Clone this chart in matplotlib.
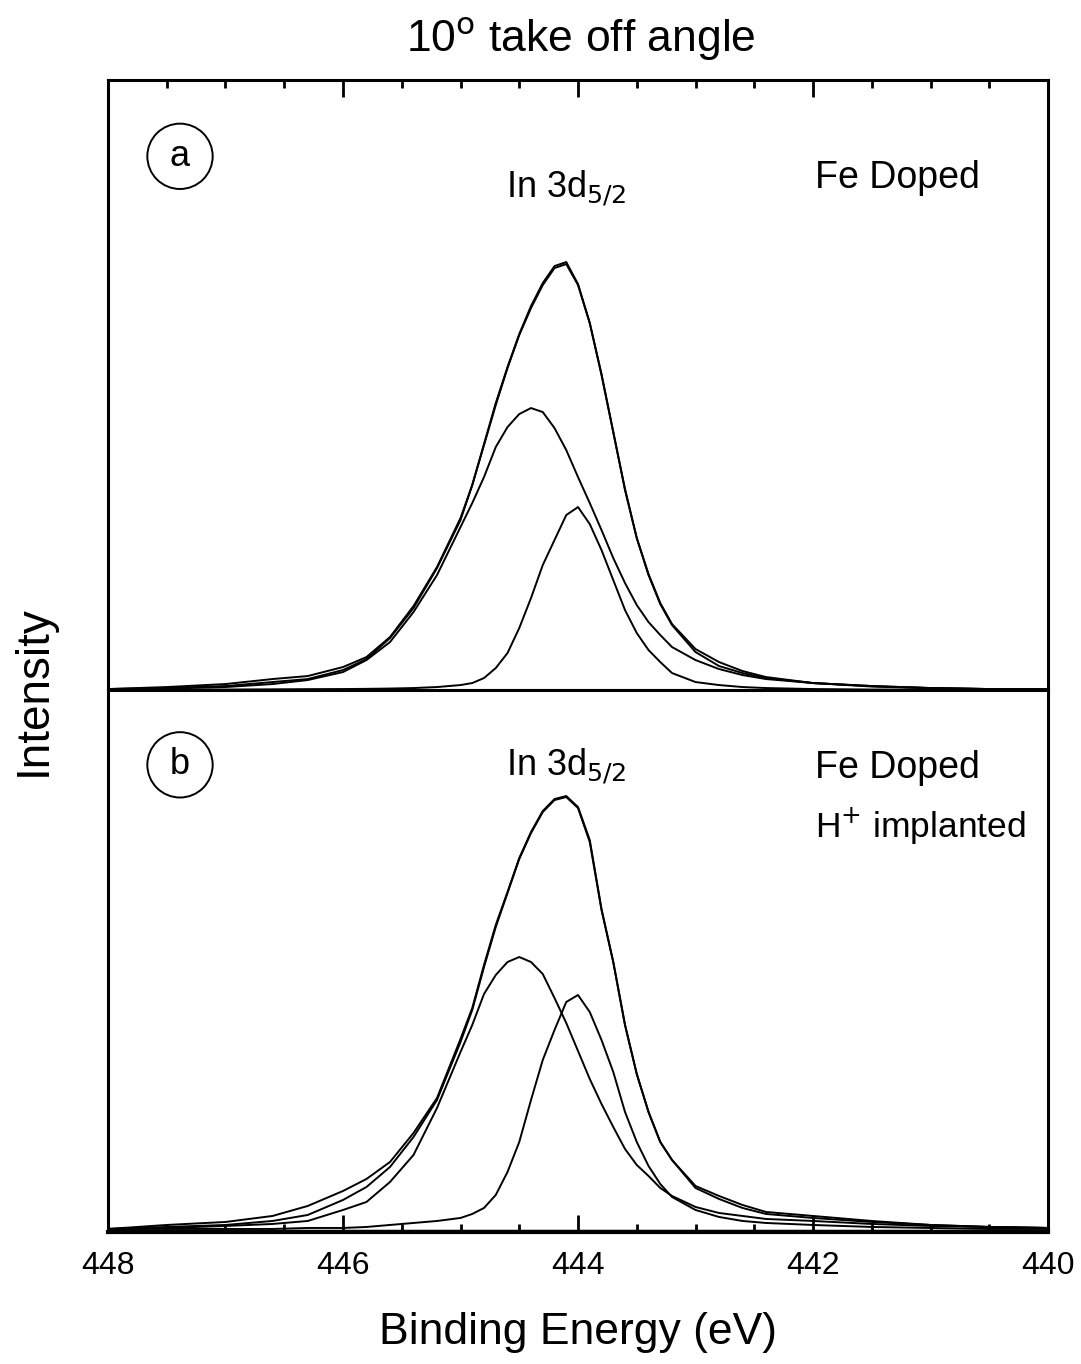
import matplotlib
matplotlib.use("Agg")
import matplotlib.pyplot as plt
from matplotlib.ticker import MultipleLocator

plt.rcParams['font.family'] = ['Liberation Sans', 'DejaVu Sans']

# binding energy grid (eV)
energy = [448.0, 447.5, 447.0, 446.6, 446.3, 446.0, 445.8, 445.6, 445.4, 445.2,
          445.0, 444.9, 444.8, 444.7, 444.6, 444.5, 444.4, 444.3, 444.2, 444.1,
          444.0, 443.9, 443.8, 443.7, 443.6, 443.5, 443.4, 443.3, 443.2, 443.0,
          442.8, 442.6, 442.4, 442.0, 441.5, 441.0, 440.5, 440.0]

# (a) Fe doped
a_data = [1, 3, 6, 11, 14, 23, 33, 53, 84, 123,
          172, 205, 246, 287, 323, 356, 384, 407, 424, 428,
          406, 367, 316, 258, 201, 152, 116, 87, 66, 41,
          28, 19, 13, 7, 4, 2, 1, 1]
a_fit = [1, 2, 4, 8, 11, 20, 31, 52, 82, 122,
         170, 205, 245, 285, 322, 355, 382, 405, 422, 426,
         405, 367, 315, 258, 200, 152, 115, 86, 65, 38,
         24, 17, 12, 7, 4, 2, 1, 1]
a_comp1 = [0.5, 1.5, 3, 6, 10, 18, 30, 48, 78, 115,
           163, 187, 213, 243, 263, 276, 282, 278, 262, 240,
           213, 187, 160, 132, 107, 85, 68, 55, 43, 30,
           21, 15, 11, 7, 3.5, 2, 1, 0.5]
a_comp2 = [0.3, 0.4, 0.5, 0.7, 0.9, 1, 1.2, 1.5, 2, 3,
           5, 7, 12, 22, 37, 62, 92, 125, 150, 175,
           183, 166, 140, 110, 80, 57, 40, 28, 17, 8,
           5, 3, 2, 1, 0.5, 0.5, 0.5, 0.5]

# (b) Fe doped, H+ implanted
b_data = [1, 5, 8, 14, 24, 39, 51, 68, 97, 132,
          191, 222, 265, 305, 338, 372, 398, 419, 431, 434,
          423, 390, 321, 268, 205, 156, 118, 88, 70, 44,
          34, 25, 18, 14, 9, 5, 3, 2]
b_fit = [1, 3, 5, 9, 15, 30, 43, 63, 93, 130,
         188, 220, 263, 303, 337, 371, 397, 418, 430, 433,
         422, 388, 320, 268, 205, 156, 118, 88, 70, 42,
         31, 22, 16, 12, 8, 5, 3, 2]
b_comp1 = [1, 2, 4, 6, 9, 20, 28, 48, 75, 122,
           178, 205, 236, 255, 268, 273, 268, 256, 232, 207,
           179, 151, 126, 103, 81, 65, 54, 42, 34, 23,
           17, 14, 11, 9, 6, 4, 3, 2]
b_comp2 = [1, 1, 1, 1, 2, 2, 3, 5, 7, 9,
           12, 16, 22, 35, 58, 88, 130, 170, 200, 228,
           235, 218, 190, 158, 118, 88, 64, 46, 33, 20,
           13, 9, 7, 5, 3, 2, 1, 1]

panels = [
    ('a', ['Fe Doped'], [0.840], a_data, a_fit, a_comp1, a_comp2),
    ('b', ['Fe Doped', 'H$^{+}$ implanted'], [0.856, 0.748],
     b_data, b_fit, b_comp1, b_comp2),
]

fig = plt.figure(figsize=(10.81, 13.64), dpi=100)
ax_top = fig.add_axes([0.0999, 0.4941, 0.8696, 0.4472])
ax_bot = fig.add_axes([0.0999, 0.0968, 0.8696, 0.3973], sharex=ax_top)

for ax, (tag, labels, ypos, data, fit, c1, c2) in zip([ax_top, ax_bot], panels):
    for series in (data, fit, c1, c2):
        ax.plot(energy, series, color='black', lw=1.4)
    ax.axhline(0, color='black', lw=1.0)
    for side in ax.spines.values():
        side.set_linewidth(2.2)
    ax.set_yticks([])
    ax.text(0.0766, 0.875 if tag == 'a' else 0.862, tag, transform=ax.transAxes,
            fontsize=26, ha='center', va='center',
            bbox=dict(boxstyle='circle,pad=0.42', fc='white', ec='black', lw=1.4))
    for i, (lab, y) in enumerate(zip(labels, ypos)):
        ax.text(0.752, y, lab, transform=ax.transAxes,
                fontsize=27 if i == 0 else 25.5, ha='left', va='center')

ax_top.text(0.487, 0.822, 'In 3d$_{5/2}$', transform=ax_top.transAxes,
            fontsize=26, ha='center', va='center')
ax_bot.text(0.487, 0.860, 'In 3d$_{5/2}$', transform=ax_bot.transAxes,
            fontsize=26, ha='center', va='center')

ax_top.set_xlim(448, 440)
ax_top.set_ylim(0, 610)
ax_bot.set_ylim(-2, 540)
ax_bot.spines['bottom'].set_linewidth(3.0)

ax_top.xaxis.set_major_locator(MultipleLocator(2))
ax_top.xaxis.set_minor_locator(MultipleLocator(0.5))
ax_top.tick_params(axis='x', which='both', direction='in', bottom=False, top=True,
                   labelbottom=False, labeltop=False, width=2)
ax_top.tick_params(axis='x', which='major', length=12)
ax_top.tick_params(axis='x', which='minor', length=6)
ax_bot.tick_params(axis='x', which='both', direction='in', bottom=True, top=False,
                   labelsize=23, width=2, pad=14)
ax_bot.tick_params(axis='x', which='major', length=12)
ax_bot.tick_params(axis='x', which='minor', length=6)

fig.text(0.537, 0.971, '10$^{\\rm o}$ take off angle', fontsize=32,
         ha='center', va='center')
fig.text(0.535, 0.023, 'Binding Energy (eV)', fontsize=32, ha='center', va='center')
fig.text(0.031, 0.494, 'Intensity', fontsize=33, ha='center', va='center',
         rotation=90)

fig.savefig('out.png', dpi=100)
